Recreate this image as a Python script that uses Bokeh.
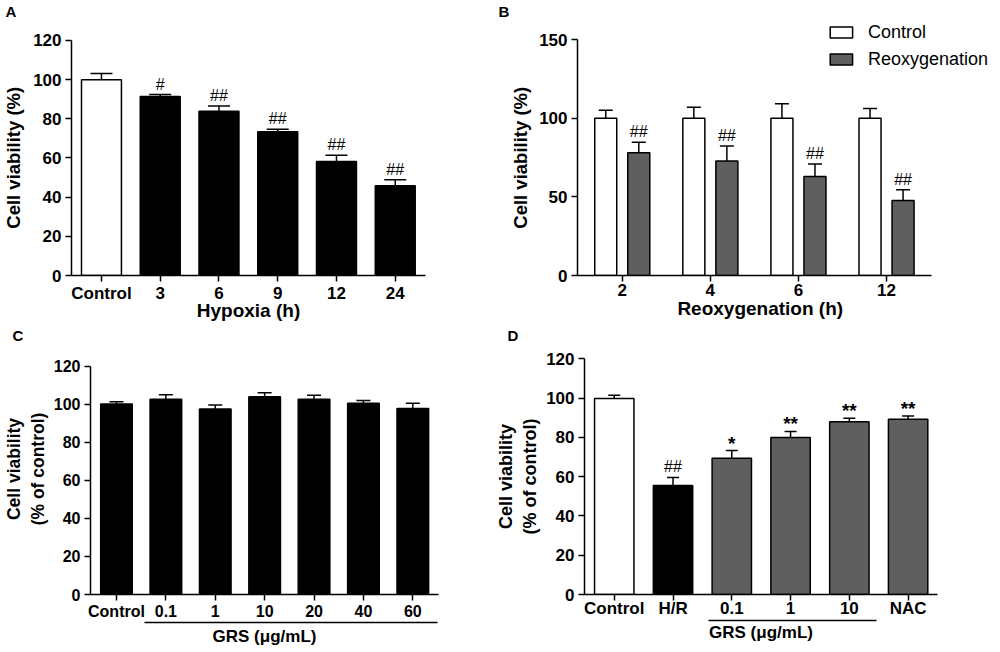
from bokeh.plotting import figure
from bokeh.models import (Range1d, FixedTicker, Whisker, TeeHead, ColumnDataSource,
                          Legend, LegendItem, LinearAxis, Title)
from bokeh.layouts import row, column
from bokeh.embed import file_html
from bokeh.resources import INLINE
from bokeh.core.properties import value

FONT = "Liberation Sans"
GRAY = "#5f5f5f"
NB = "\u00a0"

# ---------------- data ----------------
a_labels = ["Control", "3", "6", "9", "12", "24"]
a_values = [100.0, 91.4, 83.8, 73.4, 58.2, 45.8]
a_err_top = [103.1, 92.4, 86.6, 74.7, 61.4, 48.9]
a_marks = ["", "#", "##", "##", "##", "##"]

b_labels = ["2", "4", "6", "12"]
b_series = ["Control", "Reoxygenation"]
b_control = [100.0, 100.0, 100.0, 100.0]
b_control_err_top = [105.1, 107.0, 109.3, 106.2]
b_reox = [78.0, 72.8, 63.0, 47.7]
b_reox_err_top = [84.7, 82.3, 70.9, 54.5]
b_marks = ["##", "##", "##", "##"]

c_labels = ["Control", "0.1", "1", "10", "20", "40", "60"]
c_values = [100.2, 102.8, 97.6, 104.1, 102.8, 100.6, 97.9]
c_err_top = [101.4, 105.1, 99.7, 106.2, 104.8, 102.1, 100.6]

d_labels = ["Control", "H/R", "0.1", "1", "10", "NAC"]
d_values = [99.8, 55.5, 69.4, 80.0, 88.0, 89.2]
d_err_top = [101.4, 59.6, 73.3, 83.0, 89.7, 90.9]
d_marks = ["", "##", "*", "**", "**", "**"]

grs_title = "GRS (μg/mL)"


# ---------------- helpers ----------------
def make_fig(letter, letter_off, letter_gap, fw, fh, xr, yr, l, r, t, b):
    p = figure(frame_width=fw, frame_height=fh,
               x_range=Range1d(*xr), y_range=Range1d(*yr),
               output_backend="svg", toolbar_location=None,
               min_border_left=l, min_border_right=r,
               min_border_top=t, min_border_bottom=b,
               title=Title(text=letter, align="left", offset=letter_off,
                           text_font=FONT, text_font_style="bold",
                           text_font_size="15px", text_color="black",
                           standoff=letter_gap))
    p.xgrid.visible = False
    p.ygrid.visible = False
    p.outline_line_color = None
    p.background_fill_color = "white"
    p.border_fill_color = "white"
    return p


def style_axis(ax, tick_size, label_size):
    ax.axis_line_width = 1.5
    ax.axis_line_color = "black"
    ax.major_tick_out = 6
    ax.major_tick_in = 0
    ax.major_tick_line_width = 1.5
    ax.major_tick_line_color = "black"
    ax.minor_tick_line_color = None
    ax.major_label_text_font = FONT
    ax.major_label_text_font_style = "bold"
    ax.major_label_text_font_size = tick_size
    ax.major_label_text_color = "black"
    ax.axis_label_text_font = FONT
    ax.axis_label_text_font_style = "bold"
    ax.axis_label_text_font_size = label_size
    ax.axis_label_text_color = "black"


def cat_axis(ax, labels):
    ax.ticker = FixedTicker(ticks=list(range(len(labels))))
    ax.major_label_overrides = {i: s for i, s in enumerate(labels)}


def bars(p, xs, tops, errs, colors, width, cap):
    src = ColumnDataSource(dict(x=xs, top=tops, err=errs, color=colors))
    r = p.vbar(x="x", top="top", bottom=0, width=width, fill_color="color",
               line_color="black", line_width=1.5, source=src)
    w = Whisker(base="x", lower="top", upper="err", source=src, dimension="height",
                line_width=1.5, line_color="black", lower_head=None,
                upper_head=TeeHead(size=cap, line_width=1.5, line_color="black"))
    w.level = "glyph"
    p.add_layout(w)
    return r


def marks(p, xs, ys, texts, size, style, yoff):
    keep = [i for i, t in enumerate(texts) if t]
    src = ColumnDataSource(dict(x=[xs[i] for i in keep], y=[ys[i] for i in keep],
                                t=[texts[i] for i in keep]))
    p.text(x="x", y="y", text="t", source=src, text_align="center",
           text_baseline="bottom", y_offset=yoff, text_font=value(FONT),
           text_font_size=size, text_font_style=style, text_color="black")


# ---------------- panel A ----------------
pA = make_fig("A", -66, 0, 354, 256, (-0.51, 5.515), (0, 130.7), 65, 73, 11, 49)
style_axis(pA.xaxis[0], "17px", "19px")
style_axis(pA.yaxis[0], "17px", "18.5px")
cat_axis(pA.xaxis[0], a_labels)
pA.yaxis[0].bounds = (0, 120)
pA.yaxis[0].ticker = FixedTicker(ticks=[0, 20, 40, 60, 80, 100, 120])
pA.xaxis[0].axis_label = "Hypoxia (h)"
pA.yaxis[0].axis_label = "Cell viability (%)" + NB * 4
pA.xaxis[0].major_label_standoff = 2
pA.xaxis[0].axis_label_standoff = -6
pA.yaxis[0].major_label_standoff = 4
pA.yaxis[0].axis_label_standoff = 6
xa = list(range(len(a_labels)))
bars(pA, xa, a_values, a_err_top, ["white"] + ["black"] * (len(xa) - 1), 0.68, 22)
marks(pA, xa, a_err_top, a_marks, "16px", "normal", -2)

# ---------------- panel B ----------------
pB = make_fig("B", -79, 0, 413, 256, (-0.508, 4.18), (0, 162.8), 79, 0, 11, 49)
style_axis(pB.xaxis[0], "17px", "19px")
style_axis(pB.yaxis[0], "17px", "18.5px")
cat_axis(pB.xaxis[0], b_labels)
pB.xaxis[0].bounds = (-0.508, 3.508)
pB.yaxis[0].bounds = (0, 150)
pB.yaxis[0].ticker = FixedTicker(ticks=[0, 50, 100, 150])
pB.xaxis[0].axis_label = "Reoxygenation (h)" + NB * 9
pB.yaxis[0].axis_label = "Cell viability (%)" + NB * 4
pB.xaxis[0].major_label_standoff = 2
pB.xaxis[0].axis_label_standoff = -1
pB.yaxis[0].major_label_standoff = 4
pB.yaxis[0].axis_label_standoff = 5
xb = list(range(len(b_labels)))
xb_c = [x - 0.1875 for x in xb]
xb_r = [x + 0.1875 for x in xb]
rc = bars(pB, xb_c, b_control, b_control_err_top, ["white"] * len(xb), 0.25, 14)
rr = bars(pB, xb_r, b_reox, b_reox_err_top, [GRAY] * len(xb), 0.25, 14)
marks(pB, xb_r, b_reox_err_top, b_marks, "16px", "normal", -2)
leg = Legend(items=[LegendItem(label=b_series[0], renderers=[rc]),
                    LegendItem(label=b_series[1], renderers=[rr])],
             location="top_right", orientation="vertical",
             glyph_width=28, glyph_height=14, label_height=22, spacing=5,
             padding=0, margin=2, label_standoff=13,
             label_text_font=FONT, label_text_font_size="18px",
             label_text_color="black", border_line_color=None,
             background_fill_alpha=0)
pB.add_layout(leg)

# ---------------- panel C ----------------
pC = make_fig("C", -78, 0, 348, 251, (-0.526, 6.52), (0, 132.1), 83, 53, 11, 49)
style_axis(pC.xaxis[0], "16px", "17px")
style_axis(pC.yaxis[0], "16px", "17.5px")
cat_axis(pC.xaxis[0], c_labels)
pC.yaxis[0].bounds = (0, 120)
pC.yaxis[0].ticker = FixedTicker(ticks=[0, 20, 40, 60, 80, 100, 120])
pC.yaxis[0].axis_label = "Cell viability\n(% of control)"
pC.xaxis[0].major_label_standoff = 2
pC.yaxis[0].major_label_standoff = 4
pC.yaxis[0].axis_label_standoff = 3
grsC = LinearAxis(bounds=(0.573, 6.49), ticker=FixedTicker(ticks=[]), axis_label=grs_title)
style_axis(grsC, "15px", "17px")
grsC.major_tick_out = 0
grsC.axis_label_standoff = 4
pC.add_layout(grsC, "below")
xc = list(range(len(c_labels)))
bars(pC, xc, c_values, c_err_top, ["black"] * len(xc), 0.64, 14)

# ---------------- panel D ----------------
pD = make_fig("D", -77, 0, 353, 251, (-0.506, 5.5), (0, 127.8), 93, 54, 11, 49)
style_axis(pD.xaxis[0], "17px", "17px")
style_axis(pD.yaxis[0], "17px", "18px")
cat_axis(pD.xaxis[0], d_labels)
pD.yaxis[0].bounds = (0, 120)
pD.yaxis[0].ticker = FixedTicker(ticks=[0, 20, 40, 60, 80, 100, 120])
pD.yaxis[0].axis_label = "Cell viability" + NB * 3 + "\n(% of control)" + NB * 3
pD.xaxis[0].major_label_standoff = -2
pD.yaxis[0].major_label_standoff = 4
pD.yaxis[0].axis_label_standoff = 3
grsD = LinearAxis(bounds=(1.606, 4.46), ticker=FixedTicker(ticks=[]), axis_label=grs_title)
style_axis(grsD, "15px", "17px")
grsD.major_tick_out = 0
grsD.axis_label_standoff = 2
pD.add_layout(grsD, "below")
xd = list(range(len(d_labels)))
bars(pD, xd, d_values, d_err_top, ["white", "black"] + [GRAY] * (len(xd) - 2), 0.67, 12)
hash_m = [m if m.startswith("#") else "" for m in d_marks]
star_m = [m if m.startswith("*") else "" for m in d_marks]
marks(pD, xd, d_err_top, hash_m, "16px", "normal", -2)
marks(pD, xd, d_err_top, star_m, "19px", "bold", 3)

layout = column(row(pA, pB), row(pC, pD))
open("out.html", "w").write(file_html(layout, INLINE))
